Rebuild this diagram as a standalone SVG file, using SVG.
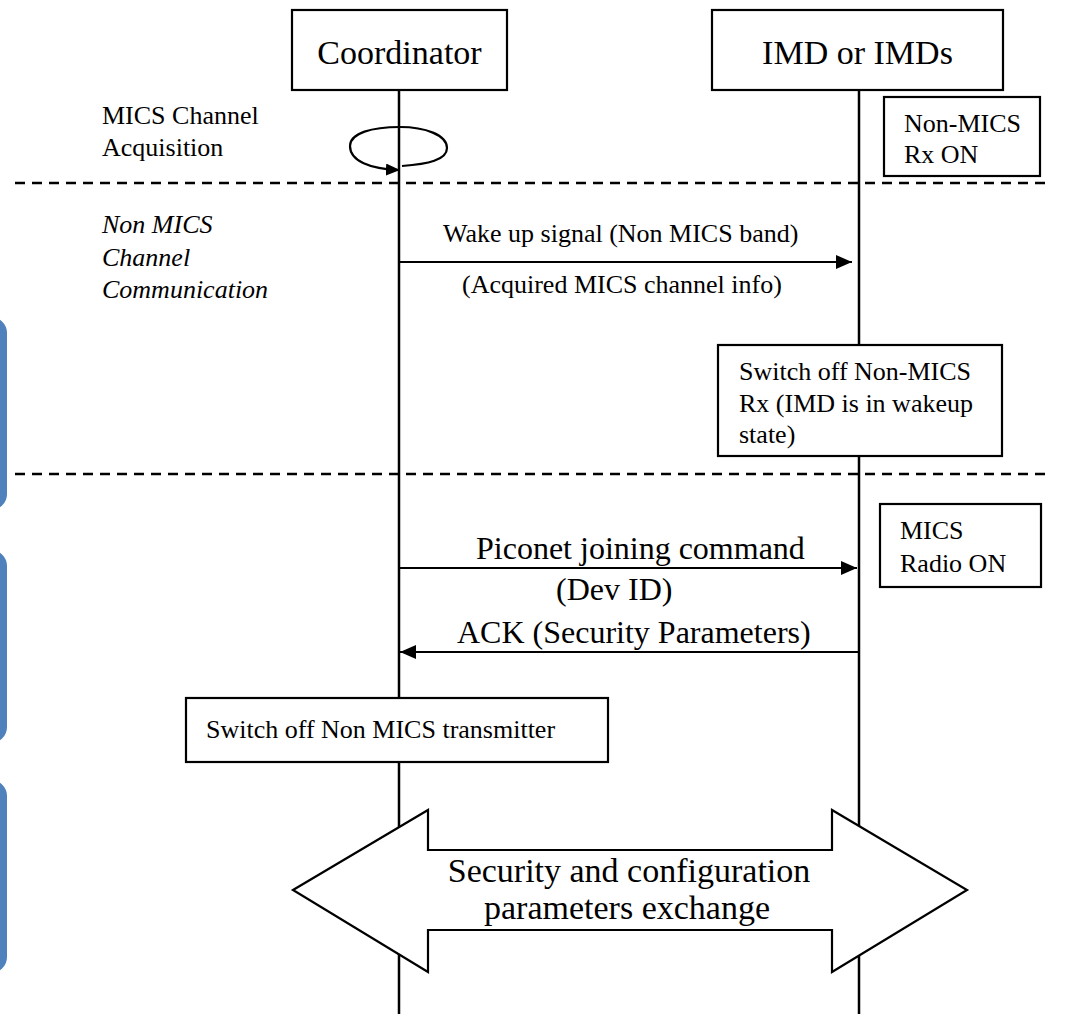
<svg xmlns="http://www.w3.org/2000/svg" width="1068" height="1017" viewBox="0 0 1068 1017">
  <defs>
    <style>
      .box { fill: #ffffff; stroke: #000000; stroke-width: 2.2; }
      .life { stroke: #000000; stroke-width: 2.5; fill: none; }
      .dash { stroke: #000000; stroke-width: 2.4; stroke-dasharray: 10 7; fill: none; }
      .msg { stroke: #000000; stroke-width: 2.2; fill: none; }
      .t { font-family: "Liberation Serif", "Times New Roman", serif; fill: #000000; }
      .s26 { font-size: 26px; }
      .s32 { font-size: 32px; }
      .s34 { font-size: 34px; }
      .it { font-style: italic; }
      .band { fill: #4F81BD; }
    </style>
    <marker id="ah" markerUnits="userSpaceOnUse" markerWidth="16" markerHeight="14" refX="16" refY="7" orient="auto">
      <path d="M0,0 L16,7 L0,14 z" fill="#000000"/>
    </marker>
    <marker id="ahs" markerUnits="userSpaceOnUse" markerWidth="14" markerHeight="12" refX="13" refY="6" orient="auto">
      <path d="M0,0 L14,6 L0,12 z" fill="#000000"/>
    </marker>
  </defs>
  <rect width="1068" height="1017" fill="#ffffff"/>

  <!-- left blue bands -->
  <g id="bands">
    <rect class="band" x="-40" y="317" width="47" height="193" rx="16"/>
    <rect class="band" x="-40" y="550" width="47" height="193" rx="16"/>
    <rect class="band" x="-40" y="780" width="47" height="193" rx="16"/>
  </g>

  <!-- lifelines -->
  <g id="lifelines">
    <line class="life" x1="399" y1="90" x2="399" y2="1014"/>
    <line class="life" x1="859" y1="90" x2="859" y2="1014"/>
  </g>

  <!-- phase separators -->
  <g id="separators">
    <line class="dash" x1="15" y1="183" x2="1052" y2="183"/>
    <line class="dash" x1="15" y1="474" x2="1052" y2="474"/>
  </g>

  <!-- side labels -->
  <g id="label-acq">
    <text class="t s26" x="102" y="124">MICS Channel</text>
    <text class="t s26" x="102" y="156">Acquisition</text>
  </g>
  <g id="label-nonmics">
    <text class="t s26 it" x="102" y="233">Non MICS</text>
    <text class="t s26 it" x="102" y="266">Channel</text>
    <text class="t s26 it" x="102" y="298">Communication</text>
  </g>

  <!-- connectors -->
  <g id="connectors">
    <path class="msg" d="M402,166 C428,164 447,160 447,148 C447,135 425,127 400,127 C372,127 350,133 350,146 C350,161 370,169 399,170" marker-end="url(#ahs)"/>
    <line class="msg" x1="399" y1="262" x2="852" y2="262" marker-end="url(#ah)"/>
    <line class="msg" x1="399" y1="568" x2="857" y2="568" marker-end="url(#ah)"/>
    <line class="msg" x1="858" y1="652" x2="400" y2="652" marker-end="url(#ah)"/>
  </g>

  <!-- message labels -->
  <g id="msg-wakeup">
    <text class="t s26" x="443" y="242">Wake up signal (Non MICS band)</text>
    <text class="t s26" x="462" y="293">(Acquired MICS channel info)</text>
  </g>
  <g id="msg-piconet">
    <text class="t s32" x="476" y="559">Piconet joining command</text>
    <text class="t s32" x="556" y="600">(Dev ID)</text>
  </g>
  <g id="msg-ack">
    <text class="t s32" x="457" y="643">ACK (Security Parameters)</text>
  </g>

  <!-- participants -->
  <g id="coordinator">
    <rect class="box" x="292" y="10" width="215" height="80"/>
    <text class="t s34" x="399.5" y="64" text-anchor="middle">Coordinator</text>
  </g>
  <g id="imd">
    <rect class="box" x="712" y="10" width="291" height="80"/>
    <text class="t s34" x="857.5" y="64" text-anchor="middle">IMD or IMDs</text>
  </g>

  <!-- state boxes -->
  <g id="state-nonmics-rx-on">
    <rect class="box" x="884" y="97" width="156" height="79"/>
    <text class="t s26" x="904" y="132">Non-MICS</text>
    <text class="t s26" x="904" y="163">Rx ON</text>
  </g>
  <g id="state-switch-off-rx">
    <rect class="box" x="718" y="345" width="284" height="111"/>
    <text class="t s26" x="739" y="380">Switch off Non-MICS</text>
    <text class="t s26" x="739" y="412">Rx (IMD is in wakeup</text>
    <text class="t s26" x="739" y="443">state)</text>
  </g>
  <g id="state-mics-radio-on">
    <rect class="box" x="880" y="504" width="161" height="83"/>
    <text class="t s26" x="900" y="539">MICS</text>
    <text class="t s26" x="900" y="572">Radio ON</text>
  </g>
  <g id="state-switch-off-tx">
    <rect class="box" x="186" y="698" width="422" height="64"/>
    <text class="t s26" x="206" y="738">Switch off Non MICS transmitter</text>
  </g>

  <!-- exchange double arrow -->
  <g id="exchange">
    <polygon class="box" points="293,890 428,810 428,850 832,850 832,810 967,890 832,972 832,930 428,930 428,972"/>
    <text class="t s34" x="629" y="882" text-anchor="middle">Security and configuration</text>
    <text class="t s34" x="627" y="919" text-anchor="middle">parameters exchange</text>
  </g>
</svg>
